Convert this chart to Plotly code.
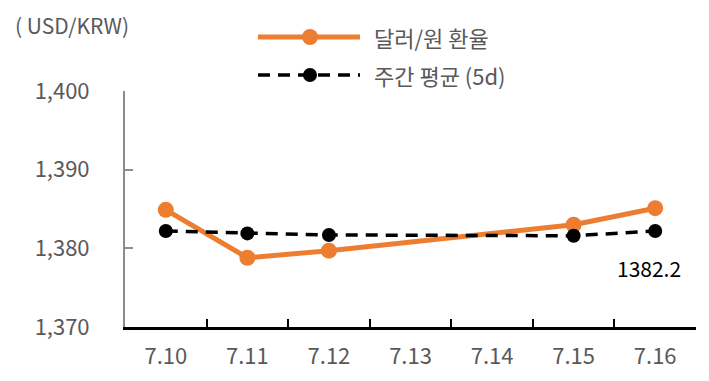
import plotly.graph_objects as go

dates = ["7.10", "7.11", "7.12", "7.13", "7.14", "7.15", "7.16"]
fx_rate = [1384.9, 1378.8, 1379.7, None, None, 1383.0, 1385.1]
weekly_avg = [1382.2, 1381.9, 1381.7, None, None, 1381.6, 1382.2]
last_label = "1382.2"
y_ticks = [1370, 1380, 1390, 1400]

ORANGE = "#ED7D31"
GRAY = "#595959"
FONT = "Noto Sans CJK KR"

OFF = 8  # page body margin
L, R, T, B = 125 - OFF, 13, 91 - OFF, 54
W, H = 709 - OFF, 381 - OFF
pw, ph = W - L - R, H - T - B

def px(x):
    return (x - OFF - L) / pw

def py(y):
    return (OFF + T + ph - y) / ph

fig = go.Figure()
fig.add_trace(go.Scatter(
    x=dates, y=fx_rate, mode="lines+markers", connectgaps=True,
    line=dict(color=ORANGE, width=5), marker=dict(color=ORANGE, size=16),
    name="달러/원 환율", showlegend=False, cliponaxis=False))
fig.add_trace(go.Scatter(
    x=dates, y=weekly_avg, mode="lines+markers", connectgaps=True,
    line=dict(color="black", width=3.5, dash="12px,8px"), marker=dict(color="black", size=14),
    name="주간 평균 (5d)", showlegend=False, cliponaxis=False))

fig.add_annotation(x=len(dates) - 1, y=1377.5, text=last_label, showarrow=False,
                   xshift=-6, font=dict(family=FONT, size=21, color="black"))

fig.add_annotation(x=px(13), y=py(25), xref="paper", yref="paper",
                   text="( USD/KRW)", showarrow=False, xanchor="left", yanchor="middle",
                   font=dict(family=FONT, size=21, color=GRAY))

# manual legend
shapes = []
legend_items = [
    (37, ORANGE, 5, "solid", 16, "달러/원 환율"),
    (75, "black", 3.5, "12px,8px", 14, "주간 평균 (5d)"),
]
for yy, col, lw, dash, ms, label in legend_items:
    shapes.append(dict(type="line", xref="paper", yref="paper",
                       x0=px(258), x1=px(360), y0=py(yy), y1=py(yy),
                       line=dict(color=col, width=lw, dash=dash)))
    shapes.append(dict(type="circle", xref="paper", yref="paper",
                       xsizemode="pixel", ysizemode="pixel",
                       xanchor=px(310), yanchor=py(yy),
                       x0=-ms / 2, x1=ms / 2, y0=-ms / 2, y1=ms / 2,
                       fillcolor=col, line=dict(width=0)))
    fig.add_annotation(x=px(372), y=py(yy), xref="paper", yref="paper", text=label,
                       showarrow=False, xanchor="left", yanchor="middle",
                       font=dict(family=FONT, size=22, color=GRAY))

fig.update_layout(
    width=W, height=H, margin=dict(l=L, r=R, t=T, b=B),
    plot_bgcolor="white", paper_bgcolor="white", shapes=shapes,
    font=dict(family=FONT, color=GRAY),
)
fig.update_xaxes(
    type="category", range=[-0.5, 6.5], tickson="boundaries",
    ticks="inside", ticklen=8, tickwidth=2, tickcolor="black",
    showline=True, linecolor="black", linewidth=3, showgrid=False,
    tickfont=dict(family=FONT, size=22, color=GRAY), ticklabelstandoff=8,
)
fig.update_yaxes(
    range=[1370, 1400], tickvals=y_ticks, tickformat=",",
    ticks="inside", ticklen=8, tickwidth=2, tickcolor="#8c8c8c",
    showline=True, linecolor="#8c8c8c", linewidth=2, showgrid=False, zeroline=False,
    tickfont=dict(family=FONT, size=22, color=GRAY), ticklabelstandoff=29,
)

fig.write_html("out.html")
